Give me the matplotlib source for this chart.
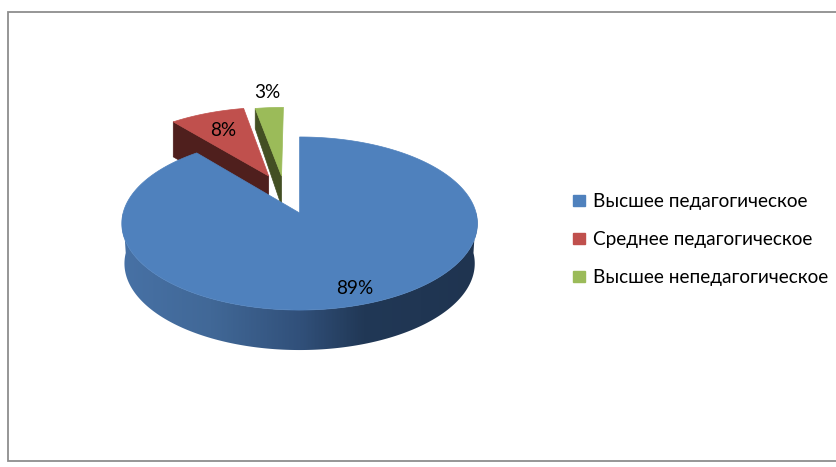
import numpy as np
import matplotlib
matplotlib.use("Agg")
import matplotlib.pyplot as plt
from matplotlib.patches import Patch, Polygon
from matplotlib.colors import LinearSegmentedColormap

categories = ["Высшее педагогическое", "Среднее педагогическое", "Высшее непедагогическое"]
values = [89, 8, 3]
labels = ["89%", "8%", "3%"]
top_colors = ["#4F81BD", "#C0504D", "#9BBB59"]
wall_colors = ["#1F3552", "#4F1F1D", "#434F23"]
offsets = [(0.0, 0.0), (-0.185, 0.458), (-0.108, 0.458)]
outer_depths = [40.0, 35.0, 20.0]
inner_depths = [40.0, 36.0, 30.0]

plt.rcParams['font.family'] = ['Lato', 'Open Sans', 'DejaVu Sans']

W, H = 837, 467
fig = plt.figure(figsize=(W / 100, H / 100), dpi=100, facecolor="white")
ax = fig.add_axes([0, 0, 1, 1])
ax.axis("off")

CX, R, CY, A, C = 299.6, 176.5, 213.0, -59.4, 0.1214
SHRINK = 0.985


def project(u, v):
    w = C * v + 1
    return CX + R * u / w, (A * v + CY) / w


def arc(a0, a1, off, n=200):
    t = np.radians(np.linspace(a0, a1, n))
    return project(np.sin(t) + off[0], np.cos(t) + off[1])


ends = np.cumsum(values) / np.sum(values) * 360
starts = np.r_[0, ends[:-1]]

# frame
ax.plot([W + 5, 8.5, 8.5, W + 5], [12, 12, 461, 461], color="#8E8E8E", lw=1.3, solid_joinstyle="miter")

# exploded slices, behind the big one
for i in (1, 2):
    off = offsets[i]
    cx_, cy_ = project(off[0], off[1])
    ex, ey = arc(starts[i], starts[i], off, n=1)
    ax.fill([ex[0], cx_, cx_, ex[0]],
            [ey[0], cy_, cy_ + inner_depths[i], ey[0] + outer_depths[i]],
            color=wall_colors[i], lw=0.5)
    x, y = arc(starts[i], ends[i], off)
    ax.fill(np.r_[cx_, x], np.r_[cy_, y], color=top_colors[i], lw=0.5)

# wall of the big slice, one shape filled with a left-to-right gradient
cmap = LinearSegmentedColormap.from_list(
    "wall", [(0.0, "#4771A5"), (0.25, "#416897"), (0.5, "#31507A"),
             (0.68, "#213856"), (1.0, "#1F3450")])
x0, y0 = arc(90, 270, offsets[0], n=300)
x1 = CX + (x0 - CX) * SHRINK
y1 = y0 + outer_depths[0]
wall = Polygon(np.c_[np.r_[x0, x1[::-1]], np.r_[y0, y1[::-1]]], closed=True,
               transform=ax.transData, facecolor="none", edgecolor="none")
ax.add_patch(wall)
grad = np.linspace(0, 1, 356)[None, :]
img = ax.imshow(grad, cmap=cmap, extent=(122, 478, 360, 200), aspect="auto",
                interpolation="bilinear")
img.set_clip_path(wall)

# top of the big slice
x, y = arc(starts[0], ends[0], offsets[0], n=400)
cx_, cy_ = project(0, 0)
ax.fill(np.r_[cx_, x], np.r_[cy_, y], color=top_colors[0], lw=0.5)

ax.set_xlim(0, W)
ax.set_ylim(H, 0)

# labels
text_kw = dict(ha="center", va="center", fontsize=13.7, color="black")
ax.text(355, 288, labels[0], **text_kw)
ax.text(223, 131, labels[1], **text_kw)
ax.text(267, 93, labels[2], **text_kw)

handles = [Patch(facecolor=c, edgecolor=c) for c in top_colors]
ax.legend(handles, categories, loc="upper left", bbox_to_anchor=(573 / W, 1 - 193 / H),
          bbox_transform=fig.transFigure, frameon=False, fontsize=13.7,
          handlelength=0.62, handleheight=0.55, handletextpad=0.45,
          labelspacing=1.11, borderpad=0, borderaxespad=0)

fig.savefig("out.png", dpi=100, facecolor="white")
